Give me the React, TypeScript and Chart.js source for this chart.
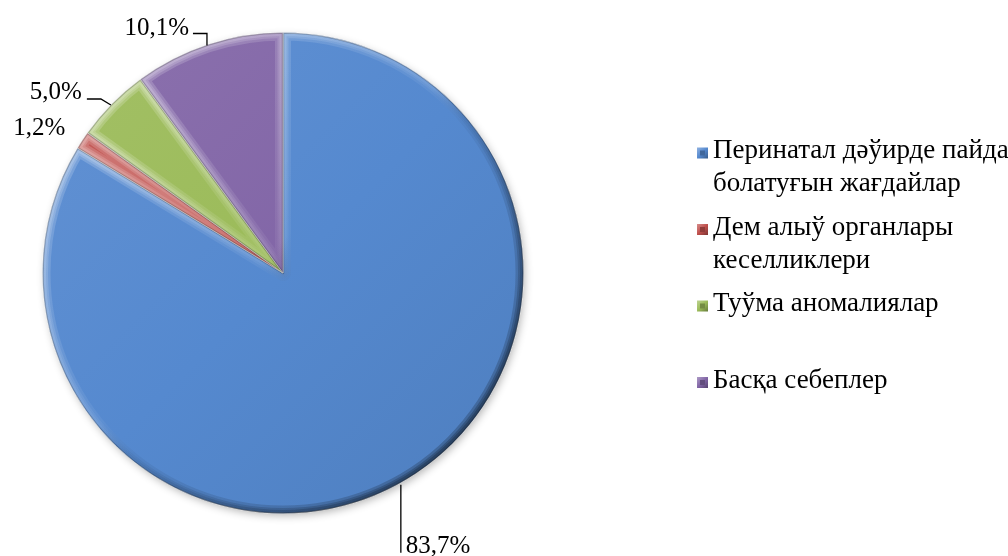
import React, { useEffect, useRef } from 'react';
import { Chart, registerables } from 'chart.js';

Chart.register(...registerables);

const categories = [
  'Перинатал дәўирде пайда болатуғын жағдайлар',
  'Дем алыў органлары кеселликлери',
  'Туўма аномалиялар',
  'Басқа себеплер',
];
const legendLines = [
  ['Перинатал дәўирде пайда', 'болатуғын жағдайлар'],
  ['Дем алыў органлары', 'кеселликлери'],
  ['Туўма аномалиялар'],
  ['Басқа себеплер'],
];
const values = [83.7, 1.2, 5.0, 10.1];
const valueLabels = ['83,7%', '1,2%', '5,0%', '10,1%'];
const baseColors = ['#5589CF', '#C0504D', '#9BBB59', '#8266A7'];

const FONT = '"Liberation Serif"';

function shade(hex: string, amt: number): string {
  const n = parseInt(hex.slice(1), 16);
  let r = (n >> 16) & 255, g = (n >> 8) & 255, b = n & 255;
  const f = (c: number) => Math.max(0, Math.min(255, Math.round(amt >= 0 ? c + (255 - c) * amt : c * (1 + amt))));
  r = f(r); g = f(g); b = f(b);
  return `rgb(${r},${g},${b})`;
}

const bevelPlugin = {
  id: 'bevel',
  beforeDatasetsDraw(chart: any) {
    const ctx = chart.ctx;
    const meta = chart.getDatasetMeta(0);
    const a = meta.data[0];
    if (!a) return;
    const { x, y, outerRadius } = a.getProps(['x', 'y', 'outerRadius'], true);
    ctx.save();
    ctx.shadowColor = 'rgba(0,0,0,0.3)';
    ctx.shadowBlur = 8;
    ctx.shadowOffsetX = 2;
    ctx.shadowOffsetY = 3;
    ctx.fillStyle = '#777';
    ctx.beginPath();
    ctx.arc(x, y, outerRadius - 1, 0, Math.PI * 2);
    ctx.fill();
    ctx.restore();
  },
  afterDatasetsDraw(chart: any) {
    const ctx = chart.ctx;
    const meta = chart.getDatasetMeta(0);
    meta.data.forEach((arc: any) => {
      const { x, y, startAngle, endAngle, outerRadius } = arc.getProps(
        ['x', 'y', 'startAngle', 'endAngle', 'outerRadius'],
        true
      );
      const R = outerRadius;
      ctx.save();
      ctx.beginPath();
      ctx.moveTo(x, y);
      ctx.arc(x, y, R, startAngle, endAngle);
      ctx.closePath();
      ctx.clip();
      ctx.lineJoin = 'round';
      const widths = [16, 11, 7];
      widths.forEach((w) => {
        const g = ctx.createLinearGradient(x - R * 0.7, y - R * 0.7, x + R * 0.7, y + R * 0.7);
        g.addColorStop(0, 'rgba(255,255,255,0.18)');
        g.addColorStop(0.45, 'rgba(255,255,255,0.05)');
        g.addColorStop(0.55, 'rgba(0,0,0,0.04)');
        g.addColorStop(1, 'rgba(0,0,0,0.2)');
        ctx.strokeStyle = g;
        ctx.lineWidth = w;
        ctx.stroke();
      });
      ctx.strokeStyle = 'rgba(0,0,0,0.22)';
      ctx.lineWidth = 2.5;
      ctx.stroke();
      ctx.restore();
    });
  },
};

const labelPlugin = {
  id: 'labels',
  afterDraw(chart: any) {
    const ctx = chart.ctx;
    const meta = chart.getDatasetMeta(0);
    ctx.save();
    ctx.font = `25px ${FONT}`;
    ctx.fillStyle = '#000';
    ctx.strokeStyle = '#000';
    ctx.lineWidth = 1.3;
    ctx.textBaseline = 'alphabetic';
    meta.data.forEach((arc: any, i: number) => {
      const { x, y, startAngle, endAngle, outerRadius } = arc.getProps(
        ['x', 'y', 'startAngle', 'endAngle', 'outerRadius'],
        true
      );
      const mid = (startAngle + endAngle) / 2;
      const ax = x + Math.cos(mid) * outerRadius;
      const ay = y + Math.sin(mid) * outerRadius;
      const txt = valueLabels[i];
      if (i === 0) {
        ctx.beginPath();
        ctx.moveTo(ax, ay + 2);
        ctx.lineTo(ax, ay + 70);
        ctx.stroke();
        ctx.textAlign = 'left';
        ctx.fillText(txt, ax + 5, ay + 70);
      } else if (i === 1) {
        ctx.textAlign = 'right';
        ctx.fillText(txt, ax - 17, ay - 5);
      } else if (i === 2) {
        ctx.beginPath();
        ctx.moveTo(ax - 1, ay + 1);
        ctx.lineTo(ax - 11, ay - 5);
        ctx.lineTo(ax - 25, ay - 5);
        ctx.stroke();
        ctx.textAlign = 'right';
        ctx.fillText(txt, ax - 30, ay - 5);
      } else {
        ctx.beginPath();
        ctx.moveTo(ax - 1, ay + 1);
        ctx.lineTo(ax - 1, ay - 11);
        ctx.lineTo(ax - 15, ay - 11);
        ctx.stroke();
        ctx.textAlign = 'right';
        ctx.fillText(txt, ax - 19, ay - 10);
      }
    });

    // legend
    const lx = 697;
    const tx = 713;
    const firstY = 151;
    const slot = 76.5;
    const lineGap = 33;
    ctx.font = `27px ${FONT}`;
    ctx.textAlign = 'left';
    legendLines.forEach((lines, i) => {
      const cy = firstY + slot * i;
      const c = baseColors[i];
      const s = 11;
      const my = cy + 2 - s / 2;
      const g = ctx.createLinearGradient(lx, my, lx + s, my + s);
      g.addColorStop(0, shade(c, 0.35));
      g.addColorStop(0.5, c);
      g.addColorStop(1, shade(c, -0.35));
      ctx.fillStyle = g;
      ctx.fillRect(lx, my, s, s);
      ctx.fillStyle = shade(c, -0.25);
      ctx.fillRect(lx + 3, my + 3, s - 6, s - 6);
      ctx.fillStyle = '#000';
      lines.forEach((ln, j) => {
        ctx.fillText(ln, tx, cy + j * lineGap + 7);
      });
    });
    ctx.restore();
  },
};

export default function App() {
  const ref = useRef<HTMLCanvasElement | null>(null);
  useEffect(() => {
    if (!ref.current) return;
    const chart = new Chart(ref.current, {
      type: 'pie',
      data: {
        labels: categories,
        datasets: [
          {
            data: values,
            backgroundColor: (ctx: any) => {
              const area = ctx.chart.chartArea;
              const c = baseColors[ctx.dataIndex];
              if (!area) return c;
              const g = ctx.chart.ctx.createLinearGradient(area.left, area.top, area.right, area.bottom);
              g.addColorStop(0, shade(c, 0.08));
              g.addColorStop(0.5, c);
              g.addColorStop(1, shade(c, -0.08));
              return g;
            },
            borderColor: 'rgba(255,255,255,0.6)',
            borderWidth: 1,
          },
        ],
      },
      options: {
        responsive: false,
        animation: false,
        layout: { padding: { top: 32, bottom: 42, left: 42, right: 484 } },
        plugins: {
          legend: { display: false },
          tooltip: { enabled: false },
        },
      },
      plugins: [bevelPlugin, labelPlugin],
    });
    return () => {
      chart.destroy();
    };
  }, []);
  return (
    <div style={{ position: 'absolute', left: 0, top: 0, width: 1008, height: 556, background: '#fff' }}>
      <canvas ref={ref} width={1008} height={556} style={{ display: 'block' }} />
    </div>
  );
}
